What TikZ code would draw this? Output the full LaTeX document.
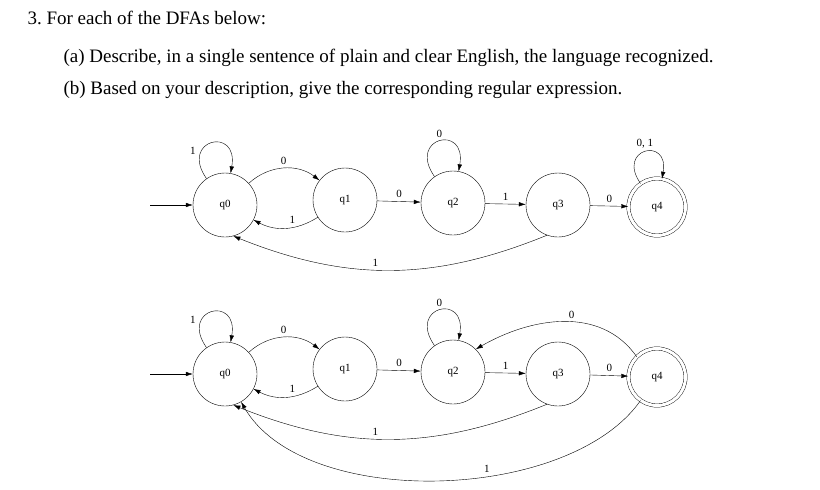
\documentclass[tikz,border=0pt]{standalone}
\usepackage{fontspec}
\setmainfont{Liberation Serif}
\usetikzlibrary{arrows.meta}
\usetikzlibrary{automata}
\usetikzlibrary{positioning}

\tikzset{
  st/.style={circle,draw,thin,minimum size=64pt,inner sep=0pt,font=\fontsize{11}{13}\selectfont},
  acc/.style={st,double,double distance=3pt,minimum size=57pt},
  tr/.style={-{Latex[length=7pt,width=4.5pt]},thin},
  lbl/.style={font=\fontsize{11}{13}\selectfont},
  selfloop/.style={tr,out=125,in=80,looseness=5},
  txt/.style={anchor=west,font=\fontsize{19}{22}\selectfont}
}

\begin{document}
\begin{tikzpicture}[x=1pt,y=-1pt]
\useasboundingbox (0,0) rectangle (820,490);
\node[txt] (h) at (24,18) {3.\ For each of the DFAs below:};
\node[txt] (a) at (60,58) {(a) Describe, in a single sentence of plain and clear English, the language recognized.};
\node[txt] (b) at (60,90) {(b) Based on your description, give the corresponding regular expression.};

% first DFA
\node[st] (q0) at (225,205) {q0};
\node[st] (q1) at (345,200) {q1};
\node[st] (q2) at (453,203) {q2};
\node[st] (q3) at (558,205) {q3};
\node[acc] (q4) at (657,207) {q4};
\coordinate (s) at (150,205);
\draw[tr] (s) -- (q0);
\draw[selfloop] (q0) to node[lbl,above left,pos=0.2] {1} (q0);
\draw[tr] (q0) to[bend left=40] node[lbl,above] {0} (q1);
\draw[tr] (q1) to[bend left=30] node[lbl,above,pos=0.4] {1} (q0);
\draw[tr] (q1) -- node[lbl,above] {0} (q2);
\draw[selfloop] (q2) to node[lbl,above,pos=0.5] {0} (q2);
\draw[tr] (q2) -- node[lbl,above] {1} (q3);
\draw[tr] (q3) -- node[lbl,above] {0} (q4);
\draw[selfloop] (q4) to node[lbl,above,pos=0.5] {0, 1} (q4);
\draw[tr] (q3.250) to[bend left=22] node[lbl,above,pos=0.55] {1} (q0.-75);

% second DFA
\node[st] (r0) at (225,374) {q0};
\node[st] (r1) at (345,369) {q1};
\node[st] (r2) at (453,372) {q2};
\node[st] (r3) at (558,374) {q3};
\node[acc] (r4) at (657,377) {q4};
\coordinate (t) at (150,374);
\draw[tr] (t) -- (r0);
\draw[selfloop] (r0) to node[lbl,above left,pos=0.2] {1} (r0);
\draw[tr] (r0) to[bend left=40] node[lbl,above] {0} (r1);
\draw[tr] (r1) to[bend left=30] node[lbl,above,pos=0.4] {1} (r0);
\draw[tr] (r1) -- node[lbl,above] {0} (r2);
\draw[selfloop] (r2) to node[lbl,above,pos=0.5] {0} (r2);
\draw[tr] (r2) -- node[lbl,above] {1} (r3);
\draw[tr] (r3) -- node[lbl,above] {0} (r4);
\draw[tr] (r4.north west) to[out=125,in=30] node[lbl,above,pos=0.45] {0} (r2.north east);
\draw[tr] (r3.250) to[bend left=22] node[lbl,above,pos=0.55] {1} (r0.-75);
\draw[tr] (r4) to[out=235,in=-60,looseness=0.8] node[lbl,above,pos=0.4] {1} (r0);
\end{tikzpicture}
\end{document}
